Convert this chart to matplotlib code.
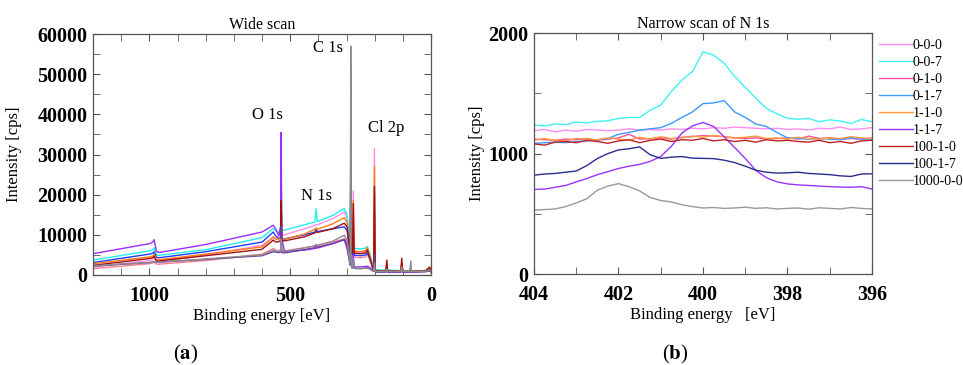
import numpy as np
import matplotlib
matplotlib.use("Agg")
import matplotlib.pyplot as plt
from matplotlib.ticker import MultipleLocator, FixedLocator

plt.rcParams['font.family'] = ['Liberation Serif', 'DejaVu Serif']
plt.rcParams['mathtext.fontset'] = 'stix'

labels = ["0-0-0", "0-0-7", "0-1-0", "0-1-7", "1-1-0", "1-1-7", "100-1-0", "100-1-7", "1000-0-0"]
colors = ["#ff8cf0", "#3ff2f2", "#ff4f9a", "#3b99ff", "#ff9a3c", "#9a33ff", "#bf2228", "#2a2d8f", "#999999"]
wide_colors = ["#ff8cf0", "#22f0f0", "#ff7f8f", "#1f3fff", "#ff7a10", "#9a2cff", "#a01010", "#6a3aa8", "#8c8c8c"]

# wide scan: binding energy grid (eV) and intensities (cps)
wide_e = [1200, 1000, 988, 983, 975, 965, 800, 600, 560, 552, 540, 534, 532, 530, 520, 450,
          412, 408, 404, 350, 308, 298, 288, 286, 285, 284, 282, 279, 276, 273, 268, 250,
          232, 226, 218, 204, 201, 198, 190, 160, 157, 154, 107, 104, 101, 75, 72, 69, 20, 5, 0]

wide_000 = [2000, 3600, 3800, 4200, 3300, 3300, 5000, 7400, 9300, 8900, 9900, 10500, 21000, 10000, 10000, 11500,
            12400, 12600, 12500, 14000, 15700, 14000, 6000, 10000, 27000, 8000, 6000, 5900, 21000, 5900, 5800, 5600,
            5800, 6500, 4700, 1300, 31500, 1200, 1100, 1000, 2800, 1000, 1000, 3000, 1000, 900, 1800, 900, 1000, 1600, 1100]
wide_007 = [3700, 6000, 6300, 6800, 5000, 4900, 6300, 9300, 11600, 11000, 10500, 12000, 27000, 11000, 11200, 12500,
            13200, 16500, 13300, 14800, 16600, 15000, 7000, 12000, 39000, 9000, 6800, 6700, 9000, 6700, 6600, 6500,
            6700, 7100, 5500, 1600, 22800, 1500, 1300, 1200, 2500, 1200, 1100, 2800, 1100, 1000, 1800, 1000, 1100, 1500, 1200]
wide_010 = [1600, 2800, 3000, 3300, 2700, 2700, 3600, 5200, 6600, 6200, 5800, 6500, 15000, 6000, 6000, 6800,
            7200, 7600, 7300, 8200, 9000, 8000, 4500, 7000, 25000, 6000, 4600, 4500, 12000, 4500, 4400, 4300,
            4500, 5200, 3800, 1100, 20000, 1000, 900, 900, 2500, 900, 900, 3000, 900, 800, 1500, 800, 900, 1300, 900]
wide_017 = [3100, 5200, 5400, 5800, 4400, 4300, 5800, 8200, 10700, 9800, 9000, 9500, 18000, 9100, 9000, 10000,
            10700, 11500, 10800, 11500, 12000, 11000, 5500, 9000, 33000, 7000, 5200, 5000, 7000, 5000, 4900, 4800,
            5000, 5500, 4300, 1300, 15300, 1200, 1000, 1000, 2000, 1000, 900, 2200, 900, 900, 1500, 900, 1000, 1300, 1000]
wide_110 = [2800, 4500, 4700, 5100, 3900, 3800, 5200, 7000, 9500, 9000, 8900, 9300, 24000, 9000, 8900, 10200,
            11400, 11700, 11400, 12700, 14300, 13000, 6000, 10000, 30000, 7500, 6200, 6100, 18600, 6000, 5900, 5800,
            6100, 6800, 4800, 1300, 27000, 1200, 1100, 1000, 3000, 1000, 1000, 3500, 1000, 900, 1700, 900, 1000, 1800, 1100]
wide_117 = [5300, 7800, 8200, 8800, 5900, 5600, 7600, 10700, 12400, 11500, 9800, 12000, 35500, 9000, 5900, 6200,
            6600, 6700, 6700, 7800, 8800, 6500, 3000, 8000, 52000, 6000, 2500, 2200, 5000, 2100, 2000, 2000,
            2100, 2200, 1900, 1200, 3000, 1100, 900, 900, 1500, 900, 800, 1800, 800, 800, 1200, 800, 900, 1000, 800]
wide_1010 = [2400, 4100, 4300, 4700, 3500, 3500, 4800, 6400, 8700, 8200, 8300, 8700, 18500, 8600, 8500, 9500,
             10500, 10800, 10600, 11500, 12900, 12000, 5500, 9000, 28000, 7000, 5600, 5500, 17800, 5500, 5400, 5300,
             5500, 6200, 4400, 1200, 22000, 1100, 1000, 1000, 3700, 1000, 900, 4200, 900, 900, 1600, 900, 1000, 2000, 1000]
wide_1017 = [2200, 3100, 3200, 3300, 3200, 3200, 3900, 4800, 5800, 5700, 5600, 5800, 12000, 5600, 5500, 6300,
             6800, 7500, 6900, 7800, 8800, 7500, 2500, 6000, 20000, 4000, 1800, 1700, 3500, 1700, 1600, 1600,
             1700, 1800, 1500, 900, 5000, 800, 700, 700, 1200, 700, 700, 1500, 700, 700, 1000, 700, 800, 1000, 700]
wide_10000 = [2300, 3100, 3200, 3300, 3200, 3200, 4000, 5000, 6200, 6100, 5900, 6000, 9000, 6000, 5900, 6700,
              7300, 7400, 7400, 8400, 9900, 8500, 3000, 9000, 57000, 5000, 2000, 1800, 4000, 1700, 1700, 1600,
              1700, 1800, 1500, 1000, 3000, 900, 900, 900, 1500, 900, 900, 2000, 900, 900, 3500, 900, 900, 1200, 900]

# narrow scan of N 1s: 404 -> 396 eV in 0.25 eV steps
narrow_e = [404.0 - 0.25 * i for i in range(33)]
n_000 = [1190, 1200, 1180, 1195, 1185, 1200, 1195, 1190, 1195, 1205, 1195, 1200, 1195, 1205, 1200, 1210, 1205,
         1215, 1210, 1220, 1215, 1210, 1205, 1210, 1200, 1205, 1195, 1210, 1205, 1220, 1200, 1205, 1215]
n_007 = [1236, 1230, 1245, 1240, 1262, 1255, 1268, 1272, 1292, 1300, 1300, 1360, 1402, 1515, 1610, 1680, 1845,
         1817, 1750, 1640, 1550, 1460, 1375, 1330, 1292, 1285, 1292, 1264, 1280, 1270, 1250, 1283, 1264]
n_010 = [1120, 1115, 1110, 1120, 1115, 1125, 1110, 1120, 1130, 1160, 1120, 1125, 1130, 1120, 1135, 1140, 1150,
         1145, 1140, 1130, 1125, 1130, 1120, 1125, 1130, 1120, 1145, 1125, 1130, 1120, 1125, 1120, 1130]
n_017 = [1085, 1090, 1095, 1090, 1100, 1105, 1115, 1125, 1160, 1175, 1195, 1205, 1215, 1250, 1300, 1345, 1415,
         1420, 1440, 1345, 1300, 1245, 1225, 1175, 1130, 1125, 1120, 1125, 1120, 1115, 1130, 1120, 1120]
n_110 = [1110, 1125, 1110, 1105, 1125, 1120, 1115, 1130, 1120, 1110, 1135, 1120, 1140, 1125, 1130, 1145, 1135,
         1150, 1140, 1130, 1135, 1145, 1125, 1130, 1120, 1135, 1125, 1120, 1130, 1125, 1140, 1130, 1125]
n_117 = [702, 705, 720, 735, 765, 792, 825, 850, 876, 895, 910, 935, 975, 1060, 1170, 1230, 1258,
         1225, 1140, 1050, 960, 860, 800, 765, 748, 740, 735, 730, 725, 722, 720, 725, 705]
n_1010 = [1080, 1070, 1095, 1100, 1090, 1110, 1100, 1085, 1105, 1115, 1090, 1110, 1120, 1100, 1115, 1110, 1125,
          1105, 1115, 1100, 1110, 1095, 1115, 1105, 1110, 1100, 1095, 1110, 1090, 1100, 1085, 1105, 1110]
n_1017 = [821, 830, 835, 845, 855, 900, 959, 1000, 1030, 1040, 1055, 990, 960, 970, 975, 962, 960,
          958, 945, 925, 895, 862, 845, 838, 840, 845, 835, 830, 825, 815, 810, 830, 832]
n_10000 = [531, 535, 540, 560, 590, 625, 696, 730, 750, 725, 690, 635, 610, 598, 575, 560, 548,
           552, 545, 548, 555, 545, 550, 540, 545, 548, 538, 550, 545, 540, 552, 545, 540]

wide_series = [wide_000, wide_007, wide_010, wide_017, wide_110, wide_117, wide_1010, wide_1017, wide_10000]
narrow_series = [n_000, n_007, n_010, n_017, n_110, n_117, n_1010, n_1017, n_10000]

fig = plt.figure(figsize=(9.63, 3.65), dpi=100)
ax1 = fig.add_axes([0.0966, 0.2466, 0.351, 0.660])
ax2 = fig.add_axes([0.5545, 0.2493, 0.351, 0.660])

for ys, c in zip(wide_series, wide_colors):
    ax1.plot(wide_e, ys, color=c, lw=1.0)
for ys, c, lab in zip(narrow_series, colors, labels):
    ax2.plot(narrow_e, ys, color=c, lw=1.0, label=lab)

ax1.set_xlim(1200, 0)
ax1.set_ylim(0, 60000)
ax1.xaxis.set_major_locator(FixedLocator([1000, 500, 0]))
ax1.xaxis.set_minor_locator(MultipleLocator(100))
ax1.yaxis.set_major_locator(MultipleLocator(10000))
ax1.yaxis.set_minor_locator(MultipleLocator(5000))
ax1.set_title("Wide scan", fontsize=11.5, pad=4)
ax1.set_xlabel("Binding energy [eV]", fontsize=12)
ax1.set_ylabel("Intensity [cps]", fontsize=12)
ax1.xaxis.set_label_coords(0.5, -0.135)
ax1.yaxis.set_label_coords(-0.21, 0.5)

ax1.text(582, 39800, "O 1s", fontsize=12, ha="center", va="center")
ax1.text(405, 19650, "N 1s", fontsize=12, ha="center", va="center")
ax1.text(366, 56470, "C 1s", fontsize=12, ha="center", va="center")
ax1.text(160, 36570, "Cl 2p", fontsize=12, ha="center", va="center")

ax2.set_xlim(404, 396)
ax2.set_ylim(0, 2000)
ax2.xaxis.set_major_locator(MultipleLocator(2))
ax2.xaxis.set_minor_locator(MultipleLocator(1))
ax2.yaxis.set_major_locator(MultipleLocator(1000))
ax2.yaxis.set_minor_locator(MultipleLocator(500))
ax2.set_title("Narrow scan of N 1s", fontsize=11.5, pad=4)
ax2.set_xlabel("Binding energy   [eV]", fontsize=12)
ax2.set_ylabel("Intensity [cps]", fontsize=12)
ax2.xaxis.set_label_coords(0.5, -0.135)
ax2.yaxis.set_label_coords(-0.145, 0.5)

for ax in (ax1, ax2):
    ax.tick_params(which="both", direction="in", top=True, right=True, color="#555555")
    ax.tick_params(which="major", length=5, labelsize=14.5)
    ax.tick_params(which="minor", length=5)
    ax.tick_params(axis="x", which="major", pad=8)
    ax.tick_params(axis="y", which="major", pad=4)
    for t in ax.get_xticklabels() + ax.get_yticklabels():
        t.set_fontweight("bold")
    for s in ax.spines.values():
        s.set_color("#555555")
        s.set_linewidth(0.9)

ax2.legend(loc="upper left", bbox_to_anchor=(1.005, 1.0), frameon=False, fontsize=10,
           handlelength=2.4, handletextpad=0.0, labelspacing=0.29, borderaxespad=0.0)

fig.text(186 / 963, 1 - 354 / 365, r"($\mathbf{a}$)", fontsize=15, ha="center", va="center")
fig.text(675 / 963, 1 - 354 / 365, r"($\mathbf{b}$)", fontsize=15, ha="center", va="center")

fig.savefig("out.png", dpi=100)
